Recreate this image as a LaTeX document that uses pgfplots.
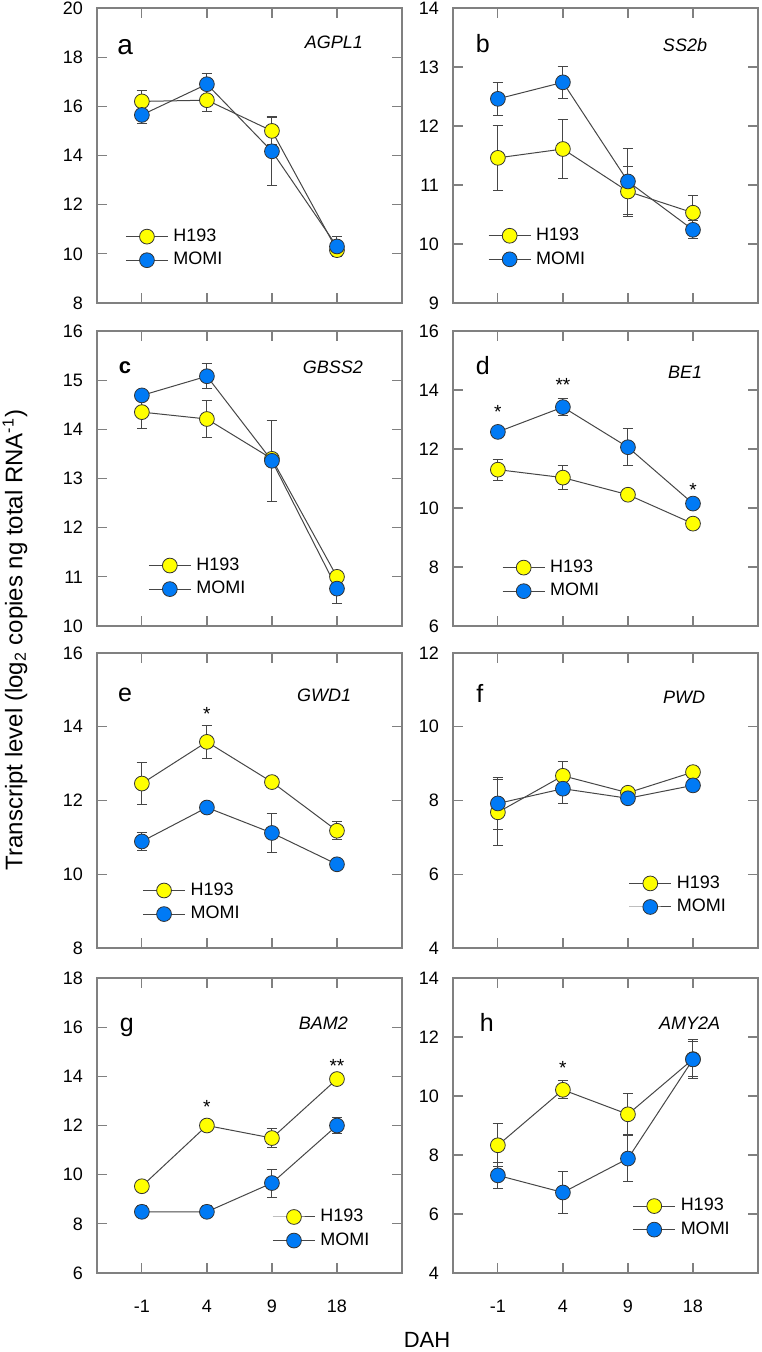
\documentclass[border=0pt]{standalone}
\usepackage{fontspec}
\setmainfont{Liberation Sans}
\usepackage{pgfplots}
\pgfplotsset{compat=1.18}

\definecolor{hyel}{RGB}{255,255,0}
\definecolor{mblue}{RGB}{0,122,245}
\definecolor{axgray}{RGB}{128,128,128}
\definecolor{lngray}{RGB}{70,70,70}

\pgfplotsset{
  panel/.style={
    scale only axis, width=152.5pt, height=147.5pt,
    xmin=-0.69, xmax=4, xtick={0,1,2,3}, xticklabels={},
    axis line style={axgray, line width=0.6pt},
    tick style={axgray, line width=0.6pt},
    tick align=inside, major tick length=5pt, minor tick num=0,
    ticklabel style={font=\fontsize{9}{10}\selectfont},
    /pgf/number format/assume math mode=true,
    yticklabel style={xshift=-3.5pt},
    legend cell align=left,
    legend style={draw=none, fill=none, font=\fontsize{9}{10}\selectfont,
      anchor=west, inner sep=0pt, row sep=4pt, column sep=2.5pt,
      nodes={inner sep=0pt}},
    legend image code/.code={\draw[mark repeat=2,mark phase=2]
      plot coordinates {(0pt,0pt)(10.5pt,0pt)(21pt,0pt)};},
    clip=false,
  },
  hser/.style={lngray, line width=0.5pt, mark=*, mark size=3.7pt,
    mark options={fill=hyel, draw=black!80, line width=0.4pt},
    error bars/y dir=both, error bars/y explicit,
    error bars/error bar style={lngray, line width=0.5pt},
    error bars/error mark options={rotate=90, mark size=2.6pt, lngray, line width=0.5pt}},
  mser/.style={hser, mark options={fill=mblue, draw=black!80, line width=0.4pt}},
}
\tikzset{
  plab/.style={font=\fontsize{12.5}{12.5}\selectfont},
  gname/.style={anchor=east, font=\itshape\fontsize{9}{10}\selectfont},
  star/.style={font=\fontsize{9.5}{9.5}\selectfont, yshift=-2pt},
}

\begin{document}
\begin{tikzpicture}
\useasboundingbox (0,0) rectangle (380.5pt,-676pt);

% a
\begin{axis}[panel, at={(48.5pt,-4pt)}, anchor=north west,
  ymin=8, ymax=20, ytick={8,10,...,20},
  legend style={at={(rel axis cs:0.092,0.185)}}]
\addplot[hser] table[x=x, y=y, y error=e] {
x y e
0 16.20 0.45
1 16.25 0.45
2 15.00 0.55
3 10.15 0.12
};
\addplot[mser] table[x=x, y=y, y error=e] {
x y e
0 15.65 0.35
1 16.90 0.45
2 14.17 1.40
3 10.30 0.40
};
\legend{H193, MOMI}
\node[font=\fontsize{14}{14}\selectfont] at (rel axis cs:0.092,0.868) {a};
\node[gname] at (rel axis cs:0.895,0.885) {AGPL1};
\end{axis}

% b
\begin{axis}[panel, at={(226.5pt,-4pt)}, anchor=north west,
  ymin=9, ymax=14, ytick={9,10,...,14},
  legend style={at={(rel axis cs:0.114,0.188)}}]
\addplot[hser] table[x=x, y=y, y error=e] {
x y e
0 11.46 0.55
1 11.61 0.50
2 10.89 0.43
3 10.53 0.30
};
\addplot[mser] table[x=x, y=y, y error=e] {
x y e
0 12.46 0.28
1 12.74 0.27
2 11.06 0.56
3 10.24 0.15
};
\legend{H193, MOMI}
\node[plab] at (rel axis cs:0.098,0.88) {b};
\node[gname] at (rel axis cs:0.856,0.875) {SS2b};
\end{axis}

% c
\begin{axis}[panel, at={(48.5pt,-165.5pt)}, anchor=north west,
  ymin=10, ymax=16, ytick={10,11,...,16},
  legend style={at={(rel axis cs:0.167,0.165)}}]
\addplot[hser] table[x=x, y=y, y error=e] {
x y e
0 14.35 0.33
1 14.21 0.38
2 13.40 0.10
3 11.00 0.10
};
\addplot[mser] table[x=x, y=y, y error=e] {
x y e
0 14.69 0.10
1 15.08 0.25
2 13.36 0.82
3 10.76 0.30
};
\legend{H193, MOMI}
\node[font=\bfseries\fontsize{11}{11}\selectfont] at (rel axis cs:0.092,0.874) {c};
\node[gname] at (rel axis cs:0.895,0.878) {GBSS2};
\end{axis}

% d
\begin{axis}[panel, at={(226.5pt,-165.5pt)}, anchor=north west,
  ymin=6, ymax=16, ytick={6,8,...,16},
  legend style={at={(rel axis cs:0.160,0.158)}}]
\addplot[hser] table[x=x, y=y, y error=e] {
x y e
0 11.30 0.36
1 11.03 0.40
2 10.45 0.10
3 9.47 0.10
};
\addplot[mser] table[x=x, y=y, y error=e] {
x y e
0 12.58 0.10
1 13.42 0.30
2 12.06 0.63
3 10.15 0.10
};
\legend{H193, MOMI}
\node[star] at (axis cs:0,13.4) {*};
\node[star] at (axis cs:1,14.3) {**};
\node[star] at (axis cs:3,10.75) {*};
\node[plab] at (rel axis cs:0.098,0.884) {d};
\node[gname] at (rel axis cs:0.84,0.861) {BE1};
\end{axis}

% e
\begin{axis}[panel, at={(48.5pt,-326.5pt)}, anchor=north west,
  ymin=8, ymax=16, ytick={8,10,...,16},
  legend style={at={(rel axis cs:0.148,0.155)}}]
\addplot[hser] table[x=x, y=y, y error=e] {
x y e
0 12.46 0.56
1 13.59 0.44
2 12.50 0.10
3 11.18 0.24
};
\addplot[mser] table[x=x, y=y, y error=e] {
x y e
0 10.89 0.24
1 11.81 0.10
2 11.12 0.54
3 10.27 0.10
};
\legend{H193, MOMI}
\node[star] at (axis cs:1,14.45) {*};
\node[plab] at (rel axis cs:0.092,0.857) {e};
\node[gname] at (rel axis cs:0.856,0.857) {GWD1};
\end{axis}

% f
\begin{axis}[panel, at={(226.5pt,-326.5pt)}, anchor=north west,
  ymin=4, ymax=12, ytick={4,6,...,12},
  legend style={at={(rel axis cs:0.575,0.179)}}]
\addplot[hser] table[x=x, y=y, y error=e] {
x y e
0 7.68 0.90
1 8.67 0.40
2 8.21 0.10
3 8.77 0.10
};
\addplot[mser] table[x=x, y=y, y error=e] {
x y e
0 7.92 0.70
1 8.32 0.39
2 8.06 0.10
3 8.41 0.15
};
\legend{H193, MOMI}
\node[plab] at (rel axis cs:0.088,0.864) {f};
\node[gname] at (rel axis cs:0.85,0.85) {PWD};
\end{axis}

% g
\begin{axis}[panel, at={(48.5pt,-489pt)}, anchor=north west,
  ymin=6, ymax=18, ytick={6,8,...,18},
  xticklabels={-1,4,9,18}, xticklabel style={yshift=-10pt},
  legend style={at={(rel axis cs:0.574,0.150)}}]
\addplot[hser] table[x=x, y=y, y error=e] {
x y e
0 9.53 0.10
1 12.00 0.15
2 11.49 0.38
3 13.89 0.15
};
\addplot[mser] table[x=x, y=y, y error=e] {
x y e
0 8.49 0.25
1 8.49 0.25
2 9.66 0.57
3 12.00 0.34
};
\legend{H193, MOMI}
\node[star] at (axis cs:1,12.9) {*};
\node[star] at (axis cs:3,14.6) {**};
\node[plab] at (rel axis cs:0.098,0.834) {g};
\node[gname] at (rel axis cs:0.846,0.848) {BAM2};
\end{axis}

% h
\begin{axis}[panel, at={(226.5pt,-489pt)}, anchor=north west,
  ymin=4, ymax=14, ytick={4,6,...,14},
  xticklabels={-1,4,9,18}, xticklabel style={yshift=-10pt},
  legend style={at={(rel axis cs:0.588,0.187)}}]
\addplot[hser] table[x=x, y=y, y error=e] {
x y e
0 8.33 0.73
1 10.21 0.30
2 9.38 0.69
3 11.25 0.60
};
\addplot[mser] table[x=x, y=y, y error=e] {
x y e
0 7.31 0.45
1 6.73 0.71
2 7.88 0.78
3 11.24 0.66
};
\legend{H193, MOMI}
\node[star] at (axis cs:1,11.1) {*};
\node[plab] at (rel axis cs:0.111,0.851) {h};
\node[gname] at (rel axis cs:0.899,0.848) {AMY2A};
\end{axis}

\node[rotate=90, font=\fontsize{12}{13}\selectfont] at (7.5pt,-320pt)
  {Transcript level (log\textsubscript{2} copies ng total RNA\textsuperscript{-1})};
\node[font=\fontsize{11}{12}\selectfont] at (213.5pt,-670pt) {DAH};
\end{tikzpicture}
\end{document}
